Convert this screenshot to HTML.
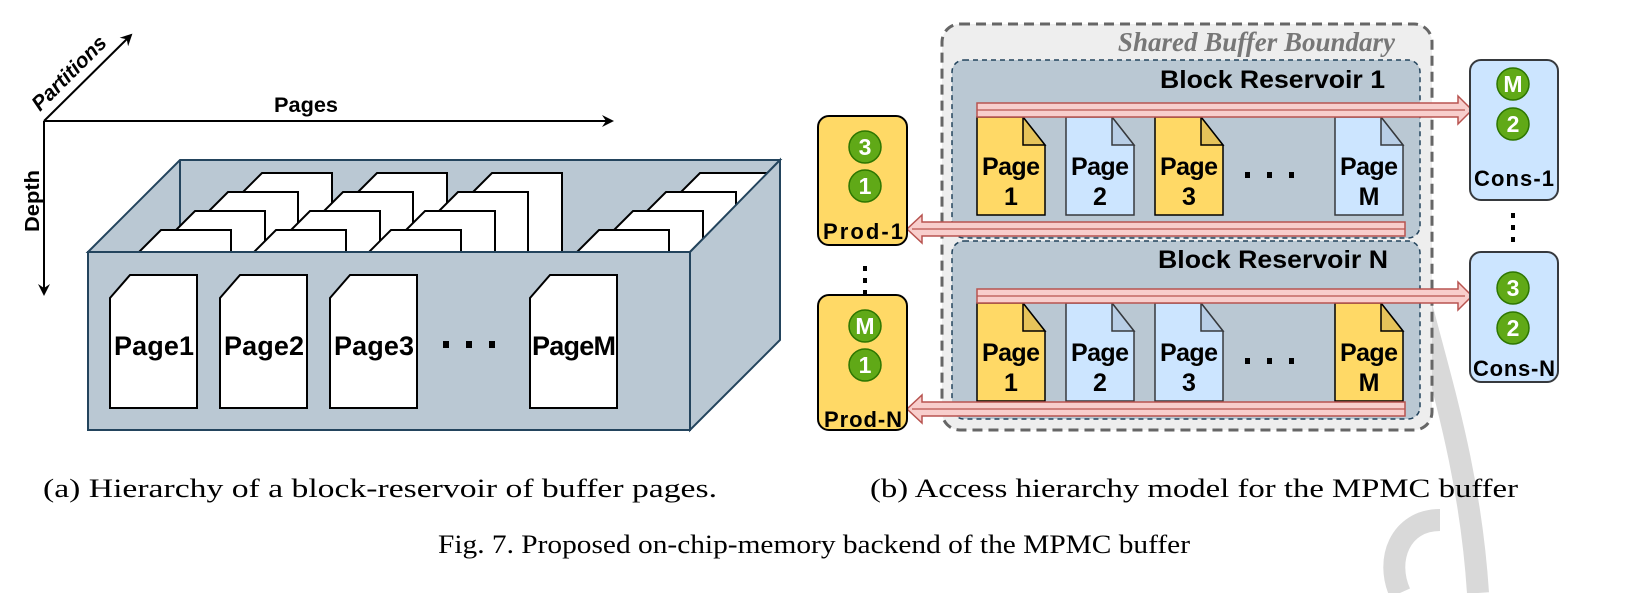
<!DOCTYPE html>
<html><head><meta charset="utf-8"><style>
html,body{margin:0;padding:0;background:#fff;}
svg{display:block;}
.b{font-family:"Liberation Sans",Arial,sans-serif;font-weight:bold;}
.s{font-family:"Liberation Serif",serif;}
</style></head><body>
<svg width="1626" height="593" viewBox="0 0 1626 593" xmlns="http://www.w3.org/2000/svg">
<defs>
<marker id="ah" markerWidth="12" markerHeight="12" refX="10" refY="6" orient="auto" markerUnits="userSpaceOnUse">
<path d="M0,0 L12,6 L0,12 L4,6 Z" fill="#000"/></marker>
</defs>
<path d="M1420,300 C1440,380 1470,470 1478,593" stroke="#d9d9d9" stroke-width="22" fill="none"/>
<path d="M1440,520 C1400,520 1385,560 1400,593" stroke="#d9d9d9" stroke-width="22" fill="none"/>

<line x1="44" y1="121" x2="612" y2="121" stroke="#000" stroke-width="2" marker-end="url(#ah)"/>
<line x1="44" y1="121" x2="44" y2="294" stroke="#000" stroke-width="2" marker-end="url(#ah)"/>
<line x1="44" y1="121" x2="131" y2="35" stroke="#000" stroke-width="2" marker-end="url(#ah)"/>
<text x="306" y="112" class="b" font-size="21" text-anchor="middle" textLength="64" lengthAdjust="spacingAndGlyphs">Pages</text>
<text class="b" font-size="20" transform="translate(39,232) rotate(-90)" textLength="62" lengthAdjust="spacingAndGlyphs">Depth</text>
<text class="b" font-size="21" font-style="italic" transform="translate(40,112) rotate(-45)" textLength="96" lengthAdjust="spacingAndGlyphs">Partitions</text>

<polygon points="88,252 180,160 780,160 690,252" fill="#bac8d3" stroke="#23445d" stroke-width="2"/>
<line x1="180" y1="160" x2="180" y2="252" stroke="#23445d" stroke-width="2"/>
<g stroke="#000" stroke-width="2" fill="#fff">
<polygon points="262,173 332,173 332,252 183,252 "/><polygon points="377,173 447,173 447,252 298,252"/><polygon points="492,173 562,173 562,252 413,252"/><polygon points="700,173 770,173 690,252 621,252"/>
<polygon points="228,192 298,192 298,252 168,252"/><polygon points="343,192 413,192 413,252 283,252"/><polygon points="458,192 528,192 528,252 398,252"/><polygon points="666,192 736,192 736,206 690,252 606,252"/>
<polygon points="195,211 265,211 265,252 154,252"/><polygon points="310,211 380,211 380,252 269,252"/><polygon points="425,211 495,211 495,252 384,252"/><polygon points="633,211 703,211 703,239 690,252 592,252"/>
<polygon points="161,230 231,230 231,252 139,252"/><polygon points="276,230 346,230 346,252 254,252"/><polygon points="391,230 461,230 461,252 369,252"/><polygon points="599,230 669,230 669,252 577,252"/>
</g>
<polygon points="690,252 780,160 780,340 690,430" fill="#bac8d3" stroke="#23445d" stroke-width="2"/>
<rect x="88" y="252" width="602" height="178" fill="#bac8d3" stroke="#23445d" stroke-width="2"/>
<g stroke="#000" stroke-width="2" fill="#fff">
<polygon points="130,275 197,275 197,408 110,408 110,298"/>
<polygon points="240,275 307,275 307,408 220,408 220,298"/>
<polygon points="350,275 417,275 417,408 330,408 330,298"/>
<polygon points="550,275 617,275 617,408 530,408 530,298"/>
</g>
<g class="b" font-size="27" lengthAdjust="spacingAndGlyphs">
<text x="114" y="355" textLength="80">Page1</text><text x="224" y="355" textLength="80">Page2</text><text x="334" y="355" textLength="80">Page3</text><text x="532" y="355" textLength="84">PageM</text>
</g>
<g fill="#000"><rect x="443" y="341" width="6" height="7"/><rect x="466" y="341" width="6" height="7"/><rect x="489" y="341" width="6" height="7"/></g>

<rect x="942" y="24" width="490" height="406" rx="18" fill="#eeeeee" stroke="#666" stroke-width="3" stroke-dasharray="10,6"/>
<text x="1395" y="51" class="s" font-size="27" font-style="italic" font-weight="bold" fill="#777" text-anchor="end">Shared Buffer Boundary</text>
<rect x="952" y="60" width="468" height="178" rx="12" fill="#bac8d3" stroke="#23445d" stroke-width="1.5" stroke-dasharray="5,4"/>
<rect x="952" y="241" width="468" height="178" rx="12" fill="#bac8d3" stroke="#23445d" stroke-width="1.5" stroke-dasharray="5,4"/>
<text x="1160" y="88" class="b" font-size="25" textLength="225" lengthAdjust="spacingAndGlyphs">Block Reservoir 1</text>
<text x="1158" y="268" class="b" font-size="25" textLength="230" lengthAdjust="spacingAndGlyphs">Block Reservoir N</text>

<g stroke-width="1.5">
<g transform="translate(977,117)"><path d="M0,0 H46 L68,28 V98 H0 Z" fill="#ffd966" stroke="#000"/><path d="M46,0 V28 H68 Z" fill="#e6c35a" stroke="#000"/></g>
<g transform="translate(1066,117)"><path d="M0,0 H46 L68,28 V98 H0 Z" fill="#cce5ff" stroke="#36393d"/><path d="M46,0 V28 H68 Z" fill="#b8cee6" stroke="#36393d"/></g>
<g transform="translate(1155,117)"><path d="M0,0 H46 L68,28 V98 H0 Z" fill="#ffd966" stroke="#000"/><path d="M46,0 V28 H68 Z" fill="#e6c35a" stroke="#000"/></g>
<g transform="translate(1335,117)"><path d="M0,0 H46 L68,28 V98 H0 Z" fill="#cce5ff" stroke="#36393d"/><path d="M46,0 V28 H68 Z" fill="#b8cee6" stroke="#36393d"/></g>
<g transform="translate(977,303)"><path d="M0,0 H46 L68,28 V98 H0 Z" fill="#ffd966" stroke="#000"/><path d="M46,0 V28 H68 Z" fill="#e6c35a" stroke="#000"/></g>
<g transform="translate(1066,303)"><path d="M0,0 H46 L68,28 V98 H0 Z" fill="#cce5ff" stroke="#36393d"/><path d="M46,0 V28 H68 Z" fill="#b8cee6" stroke="#36393d"/></g>
<g transform="translate(1155,303)"><path d="M0,0 H46 L68,28 V98 H0 Z" fill="#cce5ff" stroke="#36393d"/><path d="M46,0 V28 H68 Z" fill="#b8cee6" stroke="#36393d"/></g>
<g transform="translate(1335,303)"><path d="M0,0 H46 L68,28 V98 H0 Z" fill="#ffd966" stroke="#000"/><path d="M46,0 V28 H68 Z" fill="#e6c35a" stroke="#000"/></g>
</g>
<g class="b" font-size="25" text-anchor="middle" lengthAdjust="spacingAndGlyphs">
<text x="1011" y="175" textLength="58">Page</text><text x="1011" y="205">1</text>
<text x="1100" y="175" textLength="58">Page</text><text x="1100" y="205">2</text>
<text x="1189" y="175" textLength="58">Page</text><text x="1189" y="205">3</text>
<text x="1369" y="175" textLength="58">Page</text><text x="1369" y="205">M</text>
<text x="1011" y="361" textLength="58">Page</text><text x="1011" y="391">1</text>
<text x="1100" y="361" textLength="58">Page</text><text x="1100" y="391">2</text>
<text x="1189" y="361" textLength="58">Page</text><text x="1189" y="391">3</text>
<text x="1369" y="361" textLength="58">Page</text><text x="1369" y="391">M</text>
</g>
<g fill="#000"><rect x="1245" y="172" width="5" height="6"/><rect x="1267" y="172" width="5" height="6"/><rect x="1289" y="172" width="5" height="6"/>
<rect x="1245" y="358" width="5" height="6"/><rect x="1267" y="358" width="5" height="6"/><rect x="1289" y="358" width="5" height="6"/></g>

<g fill="#f8cecc" stroke="#b85450" stroke-width="1.5">
<path d="M977,103 H1458 V96 L1472,110 L1458,124 V117 H977 Z"/>
<path d="M977,289 H1458 V282 L1472,296 L1458,310 V303 H977 Z"/>
<path d="M1405,222 H922 V215 L907,229 L922,243 V236 H1405 Z"/>
<path d="M1405,402 H922 V395 L907,409 L922,423 V416 H1405 Z"/>
</g>
<g stroke="#b85450" stroke-width="1.2"><line x1="977" y1="110" x2="1465" y2="110"/><line x1="977" y1="296" x2="1465" y2="296"/><line x1="1405" y1="229" x2="912" y2="229"/><line x1="1405" y1="409" x2="912" y2="409"/></g>

<rect x="818" y="116" width="89" height="129" rx="11" fill="#ffd966" stroke="#000" stroke-width="2"/>
<rect x="818" y="295" width="89" height="135" rx="11" fill="#ffd966" stroke="#000" stroke-width="2"/>
<rect x="1470" y="60" width="88" height="140" rx="11" fill="#cce5ff" stroke="#36393d" stroke-width="2"/>
<rect x="1470" y="252" width="88" height="130" rx="11" fill="#cce5ff" stroke="#36393d" stroke-width="2"/>
<g fill="#60a917" stroke="#2d7600" stroke-width="1.5">
<circle cx="865" cy="147" r="16"/><circle cx="865" cy="186" r="16"/>
<circle cx="865" cy="326" r="16"/><circle cx="865" cy="365" r="16"/>
<circle cx="1513" cy="84" r="16"/><circle cx="1513" cy="124" r="16"/>
<circle cx="1513" cy="288" r="16"/><circle cx="1513" cy="328" r="16"/>
</g>
<g class="b" font-size="23" fill="#fff" text-anchor="middle">
<text x="865" y="155">3</text><text x="865" y="194">1</text>
<text x="865" y="334">M</text><text x="865" y="373">1</text>
<text x="1513" y="92">M</text><text x="1513" y="132">2</text>
<text x="1513" y="296">3</text><text x="1513" y="336">2</text>
</g>
<g class="b" font-size="22" text-anchor="middle" lengthAdjust="spacingAndGlyphs">
<text x="863" y="239" textLength="80">Prod-1</text><text x="863" y="427" textLength="78">Prod-N</text>
<text x="1514" y="186" textLength="80">Cons-1</text><text x="1514" y="376" textLength="82">Cons-N</text>
</g>
<g fill="#000"><rect x="863" y="266" width="4" height="5"/><rect x="863" y="278" width="4" height="5"/><rect x="863" y="290" width="4" height="4"/>
<rect x="1511" y="213" width="4" height="5"/><rect x="1511" y="225" width="4" height="5"/><rect x="1511" y="237" width="4" height="5"/></g>

<g class="s" font-size="26" fill="#000">
<text x="43" y="497" textLength="674" lengthAdjust="spacingAndGlyphs">(a) Hierarchy of a block-reservoir of buffer pages.</text>
<text x="870" y="497" textLength="648" lengthAdjust="spacingAndGlyphs">(b) Access hierarchy model for the MPMC buffer</text>
<text x="438" y="553" textLength="752" lengthAdjust="spacingAndGlyphs">Fig. 7.  Proposed on-chip-memory backend of the MPMC buffer</text>
</g>
</svg>
</body></html>
